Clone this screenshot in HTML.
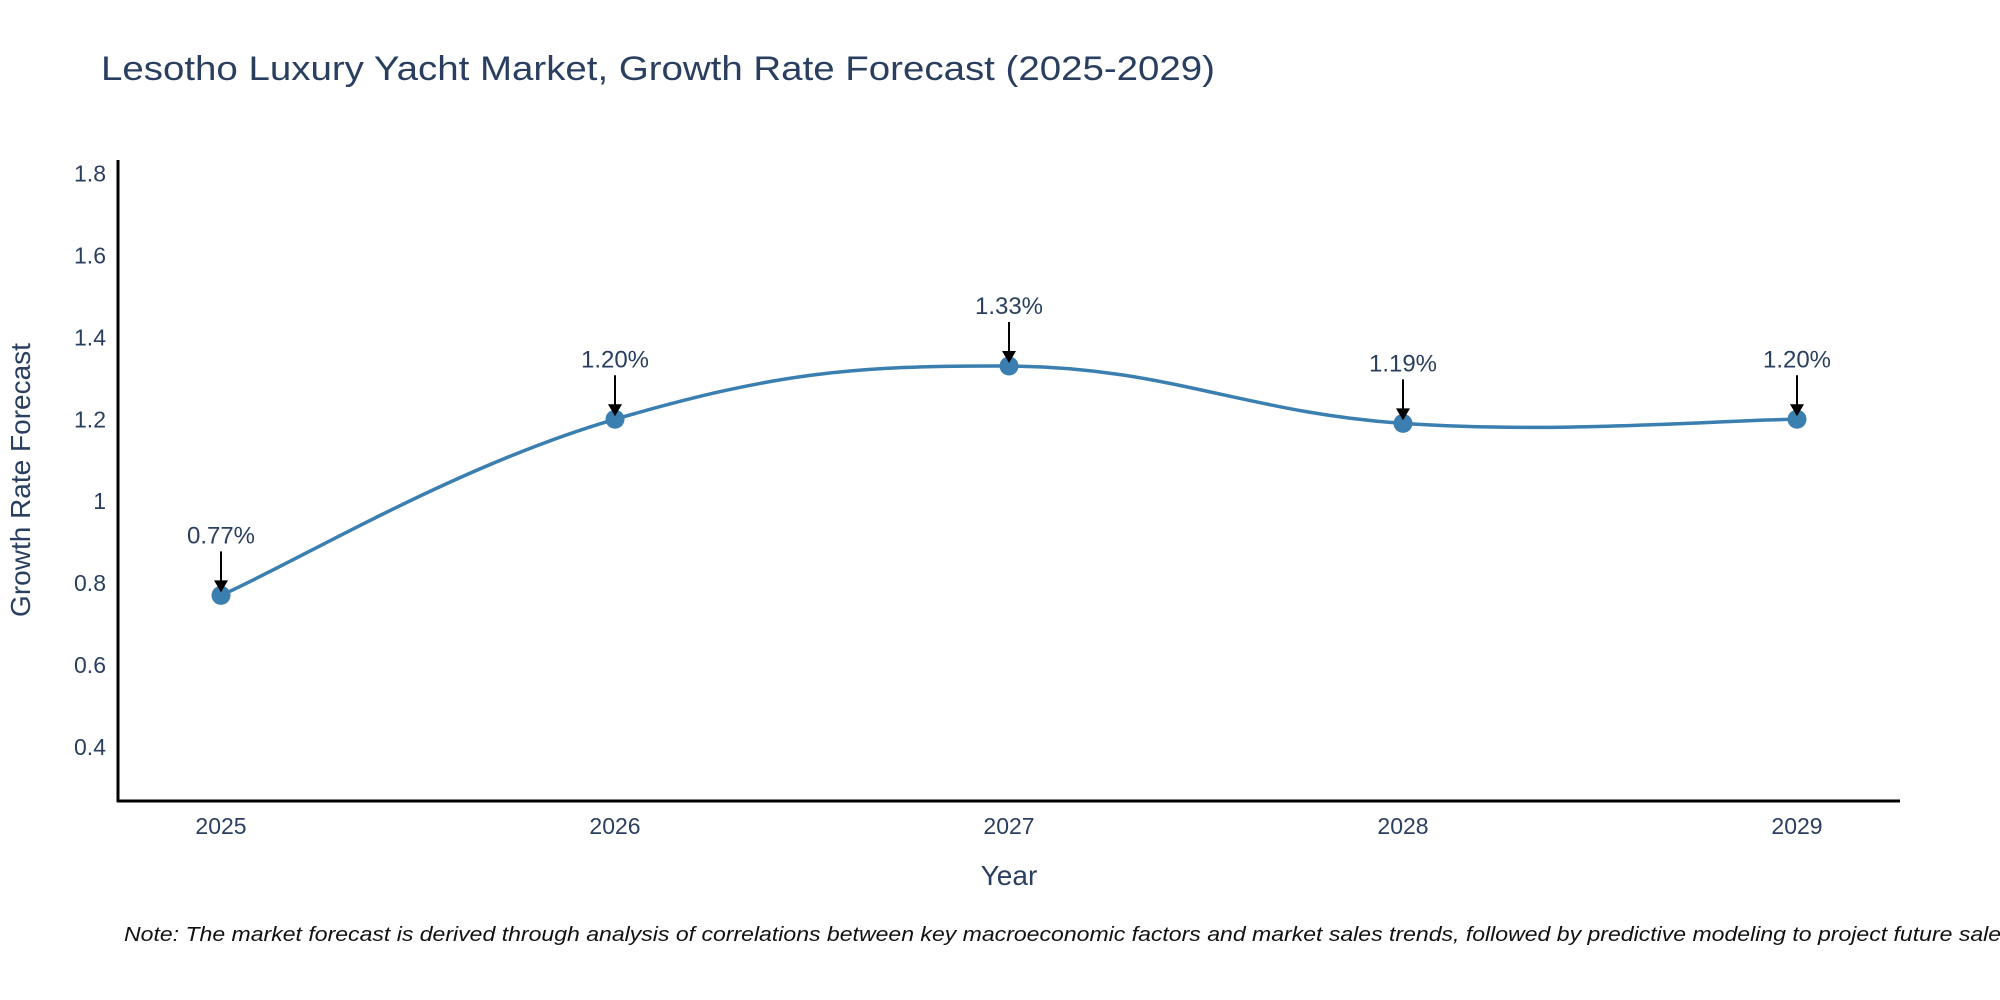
<!DOCTYPE html>
<html><head><meta charset="utf-8"><style>
html,body{margin:0;padding:0;background:#fff;}
svg{display:block;font-family:"Liberation Sans",sans-serif;}
</style></head><body>
<svg id="chart" width="2000" height="1000">
<text x="101" y="80" font-size="34" fill="#2a3f5f" textLength="1114" lengthAdjust="spacingAndGlyphs">Lesotho Luxury Yacht Market, Growth Rate Forecast (2025-2029)</text>
<g id="yticks"></g><g id="xticks"></g>
<line x1="118" y1="160" x2="118" y2="802" stroke="#000" stroke-width="3"/>
<line x1="117" y1="801" x2="1900" y2="801" stroke="#000" stroke-width="3"/>
<path id="line" fill="none" stroke="#3a7fb0" stroke-width="3.5"/>
<g id="marks"></g>
<text x="30" y="480" font-size="28" fill="#2a3f5f" text-anchor="middle" transform="rotate(-90 30 480)">Growth Rate Forecast</text>
<text x="1009" y="885" font-size="28" fill="#2a3f5f" text-anchor="middle">Year</text>
<text x="124" y="941" font-size="20" font-style="italic" fill="#111" textLength="1895" lengthAdjust="spacingAndGlyphs">Note: The market forecast is derived through analysis of correlations between key macroeconomic factors and market sales trends, followed by predictive modeling to project future sales.</text>
</svg>
<script>
const years = ["2025","2026","2027","2028","2029"];
const values = [0.77, 1.20, 1.33, 1.19, 1.20];
const labels = ["0.77%","1.20%","1.33%","1.19%","1.20%"];
const yTicks = [0.4,0.6,0.8,1,1.2,1.4,1.6,1.8];
const NS="http://www.w3.org/2000/svg";
const yMin=0.268, yMax=1.833, py0=801, py1=160;
const X=i=>221+i*394;
const Y=v=>py0-(v-yMin)/(yMax-yMin)*(py0-py1);
function mk(t,a,p){const e=document.createElementNS(NS,t);for(const k in a)e.setAttribute(k,a[k]);(p||document.getElementById('chart')).appendChild(e);return e;}
const yg=document.getElementById('yticks');
yTicks.forEach(v=>{const t=mk('text',{x:106,y:Y(v)+8,'font-size':23,fill:'#2a3f5f','text-anchor':'end'},yg);t.textContent=String(v);

});
const xg=document.getElementById('xticks');
years.forEach((y,i)=>{const t=mk('text',{x:X(i),y:834,'font-size':23,fill:'#2a3f5f','text-anchor':'middle'},xg);t.textContent=y;

});
const pts=values.map((v,i)=>[X(i),Y(v)]);
let d=`M${pts[0][0]},${pts[0][1]}`;
for(let i=0;i<pts.length-1;i++){const p0=pts[i-1]||pts[i],p1=pts[i],p2=pts[i+1],p3=pts[i+2]||p2;const s=1/5;
d+=` C${p1[0]+(p2[0]-p0[0])*s},${p1[1]+(p2[1]-p0[1])*s} ${p2[0]-(p3[0]-p1[0])*s},${p2[1]-(p3[1]-p1[1])*s} ${p2[0]},${p2[1]}`;}
document.getElementById('line').setAttribute('d',d);
const mg=document.getElementById('marks');
pts.forEach((p,i)=>{
const c=mk('circle',{cx:p[0],cy:p[1],r:9.5,fill:'#3a7fb0'},mg);


const l=mk('line',{x1:p[0],y1:p[1]-44,x2:p[0],y2:p[1]-14,stroke:'#000','stroke-width':2},mg);


const h=mk('polygon',{points:`${p[0]-7},${p[1]-15} ${p[0]+7},${p[1]-15} ${p[0]},${p[1]-3}`,fill:'#000'},mg);


const t=mk('text',{x:p[0],y:p[1]-52,'font-size':24,fill:'#2a3f5f','text-anchor':'middle'},mg);t.textContent=labels[i];


});
</script>
</body></html>
